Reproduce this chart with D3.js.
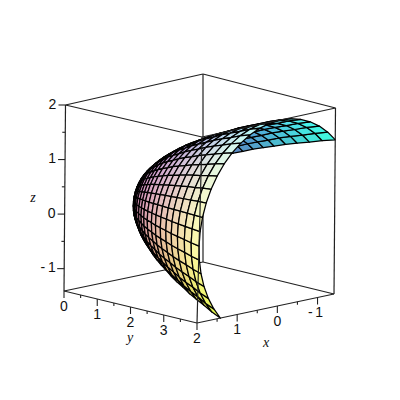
<!DOCTYPE html>
<html>
<head>
<meta charset="utf-8">
<style>
  html, body { margin: 0; padding: 0; background: #fff; }
  svg { display: block; }
  .tick-label { font-family: "Liberation Sans", sans-serif; font-size: 14px; fill: #111; }
  .axis-title { font-family: "Liberation Serif", serif; font-style: italic; font-size: 14px; fill: #111; }
</style>
</head>
<body>
<div class="root"></div>
<script src="https://cdn.jsdelivr.net/npm/d3@7"></script>
<script>
// surface mesh: rings around the y axis
const ringRadius = [0, 0.08, 0.17, 0.25, 0.33, 0.42, 0.5, 0.58, 0.67, 0.75, 0.83, 0.92, 1, 1.08, 1.17, 1.25, 1.33, 1.42, 1.5, 1.58, 1.67, 1.75, 1.83, 1.92, 2];
const ringY = [0, 0.01, 0.03, 0.06, 0.11, 0.17, 0.25, 0.34, 0.44, 0.56, 0.69, 0.84, 1, 1.17, 1.36, 1.56, 1.78, 2.01, 2.25, 2.51, 2.78, 3.06, 3.36, 3.67, 4];
const spokeAngle = [-45, -37.5, -30, -22.5, -15, -7.5, 0, 7.5, 15, 22.5, 30, 37.5, 45, 52.5, 60, 67.5, 75, 82.5, 90, 97.5, 105, 112.5, 120, 127.5, 135];

const xDomain = [-1.41, 2];
const yDomain = [0, 4];
const zDomain = [-1.41, 2];

const xTicks = [2, 1, 0, -1];
const yTicks = [0, 1, 2, 3];
const zTicks = [2, 1, 0, -1];
const xMinor = [1.5, 0.5, -0.5];
const yMinor = [0.5, 1.5, 2.5, 3.5];
const zMinor = [1.5, 0.5, -0.5];

const svgWidth = 400;
const svgHeight = 400;

const svg = d3.select('.root')
  .append('svg')
  .attr('width', svgWidth)
  .attr('height', svgHeight);

const sx = d3.scaleLinear().domain([2, -1.41]).range([0, 1]);
const sy = d3.scaleLinear().domain(yDomain).range([0, 1]);
const sz = d3.scaleLinear().domain(zDomain).range([0, 1]);

// where the box corners land on the page, [x side, y side]
const floor = [[[64, 291], [197, 323]], [[203, 262], [334, 294]]];
const roof = [[[65.5, 105], [202, 137]], [[203, 74], [335.5, 108]]];

const mix = (a, b, t) => a + (b - a) * t;
const project = (x, y, z) => {
  const u = sx(x), v = sy(y), w = sz(z);
  return [0, 1].map(i => mix(
    mix(mix(floor[0][0][i], floor[0][1][i], v), mix(floor[1][0][i], floor[1][1][i], v), u),
    mix(mix(roof[0][0][i], roof[0][1][i], v), mix(roof[1][0][i], roof[1][1][i], v), u),
    w));
};

// toward the viewer, in data units
const toViewer = [1804, 2160, 600];
const depth = p => toViewer[0] * p[0] + toViewer[1] * p[1] + toViewer[2] * p[2];
const light = [0.7, -0.1, 0.3];

const meshPoint = (i, j) => {
  const a = spokeAngle[j] * Math.PI / 180;
  return [ringRadius[i] * Math.cos(a), ringY[i], ringRadius[i] * Math.sin(a)];
};

const cells = [];
d3.range(ringRadius.length - 1).forEach(i => {
  d3.range(spokeAngle.length - 1).forEach(j => {
    const corners = [meshPoint(i, j), meshPoint(i + 1, j), meshPoint(i + 1, j + 1), meshPoint(i, j + 1)];
    const mid = [0, 1, 2].map(k => d3.mean(corners, c => c[k]));
    const d1 = [0, 1, 2].map(k => corners[2][k] - corners[0][k]);
    const d2 = [0, 1, 2].map(k => corners[3][k] - corners[1][k]);
    let n = [d1[1] * d2[2] - d1[2] * d2[1], d1[2] * d2[0] - d1[0] * d2[2], d1[0] * d2[1] - d1[1] * d2[0]];
    const len = Math.hypot(...n) || 1;
    n = n.map(v => v / len);
    if (depth(n) < 0) n = n.map(v => -v);
    cells.push({ corners, mid, n, order: depth(mid) });
  });
});
cells.sort((a, b) => d3.ascending(a.order, b.order));

const toR = d3.scaleLinear().domain(xDomain).range([0, 1]);
const toG = d3.scaleLinear().domain(yDomain).range([0, 1]);
const toB = d3.scaleLinear().domain(zDomain).range([0, 1]);
const wash = d3.scaleLinear().domain([0, 0.7]).range([0.14, 0.44]).clamp(true);

const cellColor = d => {
  const w = wash(d3.sum(d.n, (v, k) => v * light[k]));
  const a = 0.99 - w;
  const c = [toR(d.mid[0]), toG(d.mid[1]), toB(d.mid[2])].map(v => Math.round(255 * Math.min(1, w + a * v)));
  return `rgb(${c[0]},${c[1]},${c[2]})`;
};

const boxLine = (g, from, to) => {
  const a = project(...from), b = project(...to);
  g.append('line')
    .attr('x1', a[0]).attr('y1', a[1])
    .attr('x2', b[0]).attr('y2', b[1])
    .attr('stroke', '#222')
    .attr('stroke-width', 1.2);
};

const [xLo, xHi] = xDomain;
const [yLo, yHi] = yDomain;
const [zLo, zHi] = zDomain;

// edges behind the surface
const back = svg.append('g').attr('class', 'box-back');
boxLine(back, [xLo, yLo, zLo], [xHi, yLo, zLo]);
boxLine(back, [xLo, yLo, zLo], [xLo, yHi, zLo]);
boxLine(back, [xLo, yLo, zLo], [xLo, yLo, zHi]);
boxLine(back, [xLo, yLo, zHi], [xHi, yLo, zHi]);
boxLine(back, [xLo, yLo, zHi], [xLo, yHi, zHi]);

svg.append('g')
  .attr('class', 'surface')
  .selectAll('path')
  .data(cells)
  .enter()
  .append('path')
  .attr('d', d => d3.line()(d.corners.map(c => project(...c))) + 'Z')
  .attr('fill', cellColor)
  .attr('stroke', '#000')
  .attr('stroke-width', 1.25)
  .attr('stroke-linejoin', 'round');

// edges in front
const front = svg.append('g').attr('class', 'box-front');
boxLine(front, [xHi, yHi, zLo], [xLo, yHi, zLo]);
boxLine(front, [xHi, yHi, zLo], [xHi, yLo, zLo]);
boxLine(front, [xHi, yHi, zLo], [xHi, yHi, zHi]);
boxLine(front, [xHi, yHi, zHi], [xLo, yHi, zHi]);
boxLine(front, [xHi, yHi, zHi], [xHi, yLo, zHi]);
boxLine(front, [xHi, yLo, zLo], [xHi, yLo, zHi]);
boxLine(front, [xLo, yHi, zLo], [xLo, yHi, zHi]);

const axes = svg.append('g').attr('class', 'axes');

const tick = (p, dx, dy) => {
  axes.append('line')
    .attr('x1', p[0]).attr('y1', p[1])
    .attr('x2', p[0] + dx).attr('y2', p[1] + dy)
    .attr('stroke', '#222')
    .attr('stroke-width', 1.1);
};
const label = (text, x, y, cls) => {
  axes.append('text')
    .attr('class', cls || 'tick-label')
    .attr('x', x).attr('y', y)
    .attr('text-anchor', 'middle')
    .attr('dominant-baseline', 'middle')
    .text(text);
};
const fmt = v => (v < 0 ? '-\u2009' + (-v) : String(v));

yTicks.forEach(v => {
  const p = project(xHi, v, zLo);
  tick(p, 0, 7);
  label(fmt(v), p[0], p[1] + 16);
});
yMinor.forEach(v => tick(project(xHi, v, zLo), 0, 3));

xTicks.forEach(v => {
  const p = project(v, yHi, zLo);
  tick(p, 0, 7);
  label(fmt(v), p[0] - (v < 0 ? 2 : 0), p[1] + 16);
});
xMinor.forEach(v => tick(project(v, yHi, zLo), 0, 3));

zTicks.forEach(v => {
  const p = project(xHi, yLo, v);
  tick(p, -7, 0);
  label(fmt(v), p[0] - 13 - (v < 0 ? 3 : 0), p[1]);
});
zMinor.forEach(v => tick(project(xHi, yLo, v), -3, 0));

label('x', 266, 344, 'axis-title');
label('y', 130, 339, 'axis-title');
label('z', 33, 199, 'axis-title');
</script>
</body>
</html>
